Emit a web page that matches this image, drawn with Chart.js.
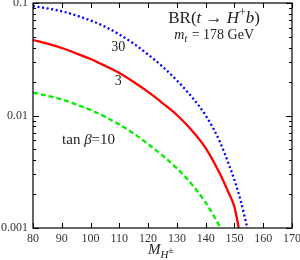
<!DOCTYPE html>
<html><head><meta charset="utf-8">
<script src="https://cdn.jsdelivr.net/npm/chart.js@4.4.1/dist/chart.umd.min.js"></script>
<style>html,body{margin:0;padding:0;background:#fff}#wrap{width:300px;height:260px}</style>
</head><body><div id="wrap"><canvas id="c" width="300" height="260"></canvas></div>
<script>
const massTan30 = [80,85,90,95,100,105,110,115,120,125,130,135,140,145,148,150,152,154.5];
const brTan30   = [0.094,0.0895,0.0844,0.0776,0.0699,0.0617,0.0525,0.0435,0.0348,0.0272,0.0205,0.0148,0.0100,0.0058,0.0037,0.00267,0.00181,0.001];
const massTan3  = [80,85,90,95,100,105,110,115,120,125,130,135,140,145,148,150,151.5];
const brTan3    = [0.0469,0.0435,0.0398,0.0357,0.0318,0.0277,0.0239,0.01986,0.0162,0.0129,0.0101,0.00748,0.00514,0.00302,0.00205,0.00154,0.001];
const massTan10 = [80,85,90,95,100,105,110,115,120,125,130,135,140,143,145.2];
const brTan10   = [0.0160,0.01496,0.0139,0.01253,0.0112,0.00977,0.00832,0.00692,0.00556,0.00442,0.00339,0.00248,0.00168,0.00126,0.001];
const xTicks = [80,90,100,110,120,130,140,150,160,170];
const yTicks = [0.001,0.01,0.1];
const yTickLabels = ['0.001','0.01','0.1'];
const SERIF = '"Liberation Serif","DejaVu Serif",serif';

function pts(xs, ys){ return xs.map((x,i)=>({x:x,y:ys[i]})); }

const framePlugin = {
  id:'frame',
  afterDraw(chart){
    const ctx = chart.ctx, a = chart.chartArea;
    const xs = chart.scales.x, ys = chart.scales.y;
    ctx.save();
    ctx.strokeStyle = '#000'; ctx.lineWidth = 1.2;
    ctx.strokeRect(a.left, a.top, a.right-a.left, a.bottom-a.top);
    ctx.lineWidth = 1;
    ctx.beginPath();
    xTicks.forEach(v=>{
      const p = Math.round(xs.getPixelForValue(v))+0.5;
      ctx.moveTo(p,a.bottom); ctx.lineTo(p,a.bottom-5);
      ctx.moveTo(p,a.top); ctx.lineTo(p,a.top+5);
    });
    for (let d of [0.001,0.01]) {
      for (let k=1;k<=10;k++){
        const v = d*k;
        if (v>0.1+1e-9) continue;
        const p = Math.round(ys.getPixelForValue(v))+0.5;
        const len = (k===1||k===10)?6:3;
        ctx.moveTo(a.left,p); ctx.lineTo(a.left+len,p);
        ctx.moveTo(a.right,p); ctx.lineTo(a.right-len,p);
      }
    }
    ctx.stroke();
    // annotations
    ctx.fillStyle = '#222';
    ctx.textBaseline = 'middle';
    const X = v=>xs.getPixelForValue(v), Y = v=>ys.getPixelForValue(v);
    ctx.font = '14px '+SERIF; ctx.textAlign='center';
    ctx.fillText('30', X(109.6), Y(0.0406));
    ctx.fillText('3', X(109.6), Y(0.0203));
    ctx.textAlign='left';
    let x0, y0;
    const seg = (t,f)=>{ ctx.font=f; ctx.fillText(t,x0,y0); x0+=ctx.measureText(t).width; };
    // tan beta = 10
    x0 = X(90.1); y0 = Y(0.00605);
    seg('tan ', '15px '+SERIF);
    seg('β', 'italic 15px '+SERIF);
    seg('=10', '15px '+SERIF);
    // BR(t -> H+ b)
    x0 = X(127.0); y0 = Y(0.0721);
    seg('BR(', '17px '+SERIF);
    seg('t', 'italic 17px '+SERIF);
    seg(' → ', '17px '+SERIF);
    seg('H', 'italic 17px '+SERIF);
    ctx.font='12px '+SERIF; ctx.fillText('+', x0, y0-6); x0+=ctx.measureText('+').width;
    seg('b', 'italic 17px '+SERIF);
    seg(')', '17px '+SERIF);
    // m_t = 178 GeV
    x0 = X(129.1); y0 = Y(0.052);
    seg('m', 'italic 14px '+SERIF);
    ctx.font='italic 10px '+SERIF; ctx.fillText('t', x0, y0+4); x0+=ctx.measureText('t').width+1;
    seg(' = 178 GeV', '14px '+SERIF);
    // x axis title
    x0 = X(120.0); y0 = a.bottom + 22;
    seg('M', 'italic 15px '+SERIF);
    ctx.font='italic 11px '+SERIF; ctx.fillText('H', x0, y0+5); x0+=ctx.measureText('H').width;
    ctx.font='9px '+SERIF; ctx.fillText('±', x0, y0+1);
    ctx.restore();
  }
};

new Chart(document.getElementById('c'), {
  type:'line',
  data:{ datasets:[
    {data:pts(massTan30,brTan30), borderColor:'#0000ff', borderWidth:2.3, borderDash:[2,2.6], pointRadius:0, cubicInterpolationMode:'monotone', fill:false},
    {data:pts(massTan3,brTan3), borderColor:'#ff0000', borderWidth:2.3, pointRadius:0, cubicInterpolationMode:'monotone', fill:false},
    {data:pts(massTan10,brTan10), borderColor:'#00ee00', borderWidth:2.3, borderDash:[5,3], pointRadius:0, cubicInterpolationMode:'monotone', fill:false}
  ]},
  options:{
    responsive:false, animation:false, events:[],
    layout:{padding:{left:0,right:8,top:3,bottom:0}},
    plugins:{legend:{display:false}, tooltip:{enabled:false}},
    clip:false,
    scales:{
      x:{type:'linear', min:80, max:170,
        afterBuildTicks(s){ s.ticks = xTicks.map(v=>({value:v})); },
        afterFit(s){ s.height = 32; s.paddingLeft=0; s.paddingRight=0; },
        grid:{display:false, drawTicks:false}, border:{display:false},
        ticks:{padding:4, color:'#333', font:{family:SERIF,size:12}, maxRotation:0, autoSkip:false}
      },
      y:{type:'logarithmic', min:0.001, max:0.1,
        afterBuildTicks(s){ s.ticks = yTicks.map(v=>({value:v})); },
        afterFit(s){ s.width = 33; s.paddingTop=0; s.paddingBottom=0; },
        grid:{display:false, drawTicks:false}, border:{display:false},
        ticks:{padding:5, color:'#333', font:{family:SERIF,size:12},
          callback:(v)=>{ const i=yTicks.findIndex(t=>Math.abs(t-v)/t<1e-6); return i>=0?yTickLabels[i]:''; }}
      }
    }
  },
  plugins:[framePlugin]
});
</script></body></html>
